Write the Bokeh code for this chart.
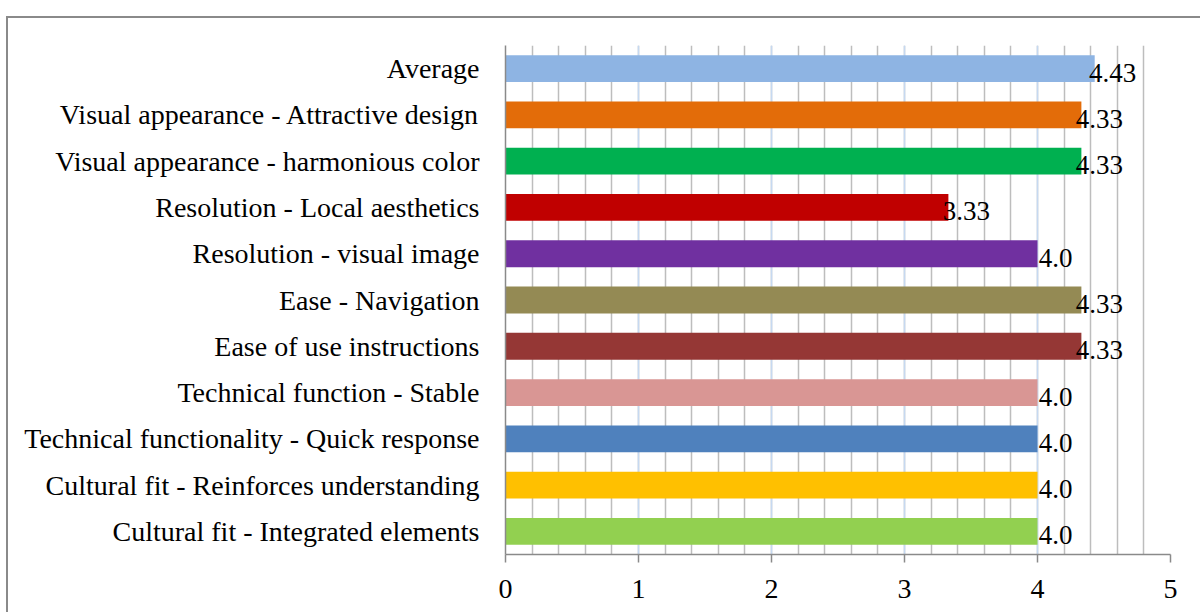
from bokeh.plotting import figure
from bokeh.models import ColumnDataSource, FactorRange, Range1d, FixedTicker, LabelSet
from bokeh.embed import file_html
from bokeh.resources import INLINE
from bokeh.core.properties import value

categories = [
    "Average",
    "Visual appearance - Attractive design",
    "Visual appearance - harmonious color",
    "Resolution - Local aesthetics",
    "Resolution - visual image",
    "Ease - Navigation",
    "Ease of use instructions",
    "Technical function - Stable",
    "Technical functionality - Quick response",
    "Cultural fit - Reinforces understanding",
    "Cultural fit - Integrated elements",
]
scores = [4.43, 4.33, 4.33, 3.33, 4.0, 4.33, 4.33, 4.0, 4.0, 4.0, 4.0]
score_labels = ["4.43", "4.33", "4.33", "3.33", "4.0", "4.33", "4.33", "4.0", "4.0", "4.0", "4.0"]
colors = ["#8EB4E3", "#E36C09", "#00B050", "#C00000", "#7030A0", "#948A54",
          "#953735", "#D99694", "#4F81BD", "#FFC000", "#92D050"]
x_ticks = [0, 1, 2, 3, 4, 5]

FONT = "Liberation Serif"

source = ColumnDataSource(dict(cat=categories, val=scores, lab=score_labels, col=colors))

p = figure(
    width=1194, height=596,
    y_range=FactorRange(*categories[::-1], range_padding=0.0),
    x_range=Range1d(0, 5),
    output_backend="svg", toolbar_location=None,
    min_border_left=497, min_border_right=32, min_border_top=27, min_border_bottom=60,
)
p.styles = {"margin-left": "6px", "margin-top": "16px",
            "border-left": "2px solid #8a8a8a", "border-top": "2px solid #8a8a8a"}
p.outline_line_color = None

# grid
p.xgrid.ticker = FixedTicker(ticks=x_ticks, minor_ticks=[i * 0.2 for i in range(26)])
p.xgrid.grid_line_color = "#C6D9F1"
p.xgrid.grid_line_width = 1.5
p.xgrid.minor_grid_line_color = "#BDBDBD"
p.xgrid.minor_grid_line_width = 1.5
p.ygrid.grid_line_color = None

p.hbar(y="cat", right="val", left=0, height=0.58, fill_color="col", line_color=None, source=source)

labels = LabelSet(x="val", y="cat", text="lab", source=source, x_offset=18, y_offset=-4,
                  text_baseline="middle", text_align="center",
                  text_font=value(FONT), text_font_size="27px", text_color="#000000")
p.add_layout(labels)

# x axis
p.xaxis.ticker = FixedTicker(ticks=x_ticks)
p.xaxis.minor_tick_line_color = None
p.xaxis.major_tick_line_color = "#8a8a8a"
p.xaxis.major_tick_line_width = 1.5
p.xaxis.major_tick_out = 8
p.xaxis.major_tick_in = 0
p.xaxis.axis_line_color = "#8a8a8a"
p.xaxis.axis_line_width = 1.5
p.xaxis.major_label_text_font = FONT
p.xaxis.major_label_text_font_size = "28px"
p.xaxis.major_label_text_color = "#000000"
p.xaxis.major_label_standoff = 17

# y axis
p.yaxis.major_tick_line_color = None
p.yaxis.minor_tick_line_color = None
p.yaxis.axis_line_color = "#8a8a8a"
p.yaxis.axis_line_width = 1.5
p.yaxis.major_label_text_font = FONT
p.yaxis.major_label_text_font_size = "28px"
p.yaxis.major_label_text_color = "#000000"
p.yaxis.major_label_standoff = 20

open("out.html", "w").write(file_html(p, INLINE))
